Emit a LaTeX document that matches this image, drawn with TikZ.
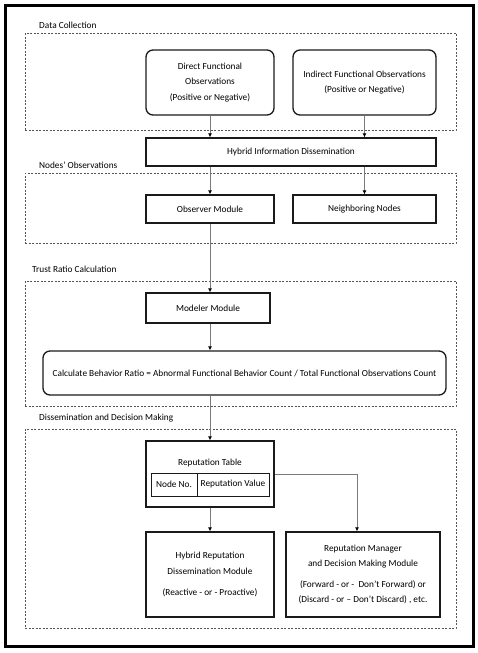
\documentclass[tikz,border=0pt]{standalone}
\usepackage{fontspec}
\setmainfont{Carlito}
\usetikzlibrary{arrows.meta,calc}
\definecolor{conn}{HTML}{7A7A7A}
\definecolor{grp}{HTML}{555555}
\definecolor{bx}{HTML}{1A1A1A}
\begin{document}
\begin{tikzpicture}[x=1pt,y=-1pt,
  font=\fontsize{9.3}{15.5}\selectfont,
  box/.style={draw=bx,line width=1.3pt,minimum width=#1,inner sep=0pt,align=center},
  rbox/.style={box=#1,rounded corners=7pt},
  cell/.style={draw=bx,line width=0.8pt,inner sep=0pt,minimum height=23pt},
  grp/.style={draw=grp,line width=0.7pt,dash pattern=on 2pt off 1.5pt,inner sep=0pt},
  lbl/.style={anchor=west,inner sep=0pt},
  conn/.style={draw=conn,line width=1pt,-{Latex[length=4pt,width=4pt,color=black]}}]
\useasboundingbox (0,0) rectangle (478,653);
% outer frame
\node[draw=black,line width=3pt,minimum width=468pt,minimum height=641pt,inner sep=0pt] (frame) at (239.5,325.5) {};
% groups
\node[grp,minimum width=431pt,minimum height=97pt] (g1) at (240.5,81.5) {};
\node[grp,minimum width=431pt,minimum height=70pt] (g2) at (240.5,208) {};
\node[grp,minimum width=431pt,minimum height=125pt] (g3) at (240.5,343.5) {};
\node[grp,minimum width=431pt,minimum height=199pt] (g4) at (240.5,528.5) {};
\node[lbl] (l1) at (39,25) {Data Collection};
\node[lbl] (l2) at (39,165) {Nodes’ Observations};
\node[lbl] (l3) at (32,269) {Trust Ratio Calculation};
\node[lbl] (l4) at (39,418) {Dissemination and Decision Making};
% boxes
\node[rbox=128pt,minimum height=65pt] (direct) at (210,82.5) {Direct Functional\\Observations\\(Positive or Negative)};
\node[rbox=143pt,minimum height=65pt] (indirect) at (364.5,82.5) {Indirect Functional Observations\\(Positive or Negative)};
\node[box=290pt,minimum height=28pt] (hybrid) at (291,152) {Hybrid Information Dissemination};
\node[box=128pt,minimum height=28pt] (observer) at (210,209) {Observer Module};
\node[box=143pt,minimum height=28pt] (neigh) at (364.5,209) {Neighboring Nodes};
\node[box=124pt,minimum height=30pt] (modeler) at (208,308) {Modeler Module};
\node[rbox=403pt,minimum height=44pt] (calc) at (244.5,373) {Calculate Behavior Ratio = Abnormal Functional Behavior Count / Total Functional Observations Count};
\node[box=128pt,minimum height=66pt] (rept) at (210,474) {};
\node[inner sep=0pt] (repttitle) at (210,463) {Reputation Table};
\node[cell,minimum width=46pt] (c1) at (174,484.5) {Node No.};
\node[cell,minimum width=72pt] (c2) at (233,484.5) {Reputation Value};
\node[box=128pt,minimum height=85pt] (hrep) at (210,574.5) {Hybrid Reputation\\Dissemination Module\\[6pt](Reactive - or - Proactive)};
\node[box=154pt,minimum height=85pt] (mgr) at (363,574.5) {Reputation Manager\\and Decision Making Module\\[5pt](Forward - or -\ \ Don’t Forward) or\\(Discard - or – Don’t Discard) , etc.};
% connectors
\draw[conn] (direct.south) -- (direct.south |- hybrid.north);
\draw[conn] (indirect.south) -- (indirect.south |- hybrid.north);
\draw[conn] (hybrid.south -| observer.north) -- (observer.north);
\draw[conn] (hybrid.south -| neigh.north) -- (neigh.north);
\draw[conn] (observer.south) -- (observer.south |- modeler.north);
\draw[conn] (observer.south |- modeler.south) -- (observer.south |- calc.north);
\draw[conn] (observer.south |- calc.south) -- (rept.north);
\draw[conn] (rept.south) -- (hrep.north);
\coordinate (turn) at (357,474);
\draw[conn] (rept.east) -- (turn) -- (turn |- mgr.north);
\end{tikzpicture}
\end{document}
